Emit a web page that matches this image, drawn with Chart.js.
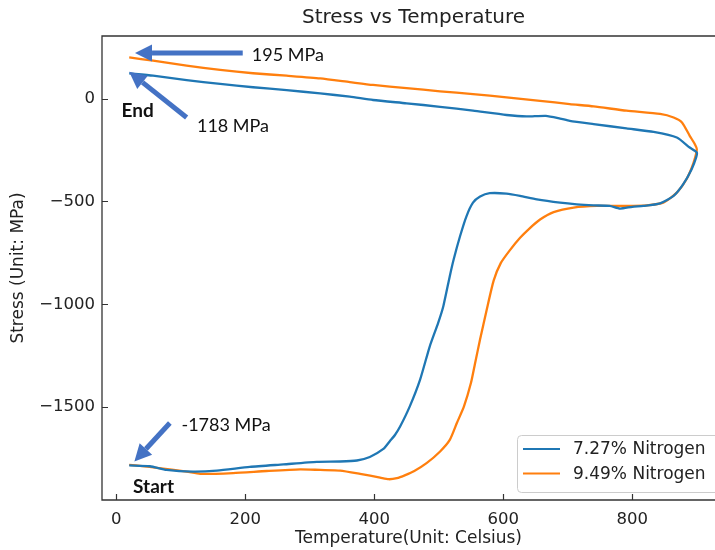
<!DOCTYPE html>
<html>
<head>
<meta charset="utf-8">
<title>Stress vs Temperature</title>
<script src="https://cdn.jsdelivr.net/npm/chart.js@4.4.1/dist/chart.umd.min.js"></script>
<style>
  body { margin: 0; background: #fff; }
  canvas { display: block; }
</style>
</head>
<body>
<canvas id="stressChart" width="715" height="550"></canvas>
<script>
// Chart title and series names
const chartTitle = 'Stress vs Temperature';
const seriesNames = ['7.27% Nitrogen', '9.49% Nitrogen'];

// 7.27% Nitrogen: temperature (Celsius) and stress (MPa), in heating/cooling order
const temp727 = [20, 52, 78, 119, 156, 207, 259, 311, 347, 373, 393, 414, 424, 432, 440, 455, 471, 486, 499, 507,
  517, 523, 533, 543, 553, 564, 579, 605, 626, 652, 688, 714, 740, 765, 781, 800, 817, 843, 864,
  879, 892, 899, 900, 889, 869, 833, 791, 740, 703, 688, 666, 636, 605, 553, 502, 450, 398, 362, 316,
  264, 212, 161, 109, 57, 20];
const stress727 = [-1783, -1787, -1805, -1813, -1808, -1790, -1778, -1766, -1764, -1759, -1742, -1703, -1665, -1635, -1594, -1496, -1366, -1204, -1090, -1009,
  -863, -782, -668, -571, -506, -476, -460, -462, -473, -490, -506, -514, -519, -522, -535, -526, -522, -509, -473,
  -416, -343, -286, -262, -238, -189, -162, -145, -124, -108, -97, -84, -87, -80, -59, -40, -23, -7, 9, 25,
  41, 55, 71, 90, 111, 122];

// 9.49% Nitrogen
const temp949 = [20, 40, 63, 109, 130, 181, 233, 285, 316, 347, 378, 409, 422, 435, 448, 462, 481, 502, 517, 528,
  539, 550, 556, 564, 574, 585, 596, 610, 626, 640, 657, 678, 709, 745, 791, 822, 848, 869, 884, 895, 900, 897, 889,
  877, 864, 843, 791, 740, 703, 657, 605, 553, 502, 450, 398, 362, 316, 264, 212, 161, 109, 57, 20];
const stress949 = [-1780, -1786, -1795, -1813, -1824, -1820, -1810, -1802, -1805, -1808, -1824, -1842, -1850, -1845, -1830, -1810, -1772, -1715, -1659, -1577,
  -1496, -1380, -1290, -1170, -1030, -885, -800, -738, -677, -633, -588, -552, -530, -522, -522, -519, -506, -457, -392, -311, -246, -222, -181,
  -116, -92, -75, -59, -38, -27, -11, 6, 22, 35, 51, 66, 80, 98, 111, 123, 139, 160, 184, 200];

// Tick labels
const xTickValues = [0, 200, 400, 600, 800];
const xTickLabels = ['0', '200', '400', '600', '800'];
const yTickValues = [-1500, -1000, -500, 0];
const yTickLabels = ['\u22121500', '\u22121000', '\u2212500', '0'];

// Callout notes
const noteTexts = ['195 MPa', '118 MPa', '-1783 MPa'];
const noteBold = ['End', 'Start'];

const seriesColors = ['#1f77b4', '#ff7f0e'];
const arrowColor = '#4472c4';
const textColor = '#222222';
const fontMain = "'DejaVu Sans', sans-serif";
const fontNote = "Lato, 'Open Sans', sans-serif";

Chart.defaults.font.family = fontMain;
Chart.defaults.color = textColor;

// Build point objects for the scatter datasets
function toPoints(xs, ys) {
    return xs.map((x, i) => ({ x: x, y: ys[i] }));
}

// Arrow / text annotations, positioned with the chart's scales
const arrows = [
    { tip: [29, 221], tail: [196, 221] },
    { tip: [20, 130], tail: [109, -92] },
    { tip: [28, -1764], tail: [83, -1577] }
];
const labels = [
    { text: noteTexts[0], at: [210, 209], bold: false },
    { text: noteTexts[1], at: [125, -132], bold: false },
    { text: noteTexts[2], at: [101, -1585], bold: false },
    { text: noteBold[0], at: [8, -59], bold: true },
    { text: noteBold[1], at: [26, -1885], bold: true }
];

function drawArrow(ctx, x1, y1, x2, y2) {
    // x1,y1 = tail, x2,y2 = tip
    const ang = Math.atan2(y2 - y1, x2 - x1);
    const headLen = 17, headW = 8.5;
    const bx = x2 - headLen * Math.cos(ang);
    const by = y2 - headLen * Math.sin(ang);
    ctx.strokeStyle = arrowColor;
    ctx.fillStyle = arrowColor;
    ctx.lineWidth = 5;
    ctx.beginPath();
    ctx.moveTo(x1, y1);
    ctx.lineTo(bx, by);
    ctx.stroke();
    ctx.beginPath();
    ctx.moveTo(x2, y2);
    ctx.lineTo(bx + headW * Math.sin(ang), by - headW * Math.cos(ang));
    ctx.lineTo(bx - headW * Math.sin(ang), by + headW * Math.cos(ang));
    ctx.closePath();
    ctx.fill();
}

// Title, frame, inward ticks, callouts and legend
const extrasPlugin = {
    id: 'extras',
    afterDraw(chart) {
        const ctx = chart.ctx;
        const area = chart.chartArea;
        const xs = chart.scales.x;
        const ys = chart.scales.y;
        ctx.save();

        // title, centred over the (slightly cropped) axes box
        ctx.fillStyle = textColor;
        ctx.font = '20px ' + fontMain;
        ctx.textAlign = 'center';
        ctx.textBaseline = 'middle';
        ctx.fillText(chartTitle, (area.left + area.right) / 2 + 5, 18);

        // frame (left, top, bottom spines)
        ctx.strokeStyle = '#333';
        ctx.lineWidth = 1.3;
        ctx.beginPath();
        ctx.moveTo(area.right + 2, area.top);
        ctx.lineTo(area.left, area.top);
        ctx.lineTo(area.left, area.bottom);
        ctx.lineTo(area.right + 2, area.bottom);
        ctx.stroke();

        // inward tick marks
        ctx.lineWidth = 1.2;
        ctx.beginPath();
        xTickValues.forEach(v => {
            const px = Math.round(xs.getPixelForValue(v)) + 0.5;
            ctx.moveTo(px, area.bottom);
            ctx.lineTo(px, area.bottom - 6);
        });
        yTickValues.forEach(v => {
            const py = Math.round(ys.getPixelForValue(v)) + 0.5;
            ctx.moveTo(area.left, py);
            ctx.lineTo(area.left + 6, py);
        });
        ctx.stroke();

        // arrows
        arrows.forEach(a => {
            drawArrow(ctx,
                xs.getPixelForValue(a.tail[0]), ys.getPixelForValue(a.tail[1]),
                xs.getPixelForValue(a.tip[0]), ys.getPixelForValue(a.tip[1]));
        });

        // callout text
        ctx.fillStyle = '#111';
        ctx.textBaseline = 'middle';
        ctx.textAlign = 'left';
        labels.forEach(l => {
            ctx.font = (l.bold ? 'bold 19px ' : '18px ') + fontNote;
            ctx.fillText(l.text, xs.getPixelForValue(l.at[0]), ys.getPixelForValue(l.at[1]));
        });

        // legend box in lower right
        const lx = 517, ly = 435, lw = 206, lh = 57;
        ctx.fillStyle = 'rgba(255,255,255,0.85)';
        ctx.strokeStyle = '#cccccc';
        ctx.lineWidth = 1;
        ctx.beginPath();
        ctx.roundRect(lx + 0.5, ly + 0.5, lw, lh, 4);
        ctx.fill();
        ctx.stroke();
        ctx.font = '17px ' + fontMain;
        chart.data.datasets.forEach((ds, i) => {
            const y = ly + 14 + i * 24.5;
            ctx.strokeStyle = ds.borderColor;
            ctx.lineWidth = 2.2;
            ctx.beginPath();
            ctx.moveTo(lx + 6, y);
            ctx.lineTo(lx + 43, y);
            ctx.stroke();
            ctx.fillStyle = textColor;
            ctx.fillText(ds.label, lx + 56, y + 1);
        });

        ctx.restore();
    }
};

const chart = new Chart(document.getElementById('stressChart'), {
    type: 'scatter',
    data: {
        datasets: [
            {
                label: seriesNames[0],
                data: toPoints(temp727, stress727),
                showLine: true,
                borderColor: seriesColors[0],
                backgroundColor: seriesColors[0],
                borderWidth: 2.3,
                pointRadius: 0,
                tension: 0.2
            },
            {
                label: seriesNames[1],
                data: toPoints(temp949, stress949),
                showLine: true,
                borderColor: seriesColors[1],
                backgroundColor: seriesColors[1],
                borderWidth: 2.3,
                pointRadius: 0,
                tension: 0.2
            }
        ]
    },
    options: {
        responsive: false,
        animation: false,
        layout: { padding: { top: 36 } },
        plugins: {
            legend: { display: false },
            tooltip: { enabled: false },
            title: { display: false }
        },
        scales: {
            x: {
                type: 'linear',
                min: -22.2,
                max: 928.2,
                grid: { display: false, drawTicks: false },
                border: { display: false },
                afterBuildTicks: (scale) => { scale.ticks = xTickValues.map(v => ({ value: v })); },
                afterFit: (scale) => { scale.height = 50; },
                ticks: {
                    padding: 10,
                    font: { size: 16.5 },
                    color: textColor,
                    callback: (value) => xTickLabels[xTickValues.indexOf(value)]
                },
                title: {
                    display: true,
                    text: 'Temperature(Unit: Celsius)',
                    color: textColor,
                    font: { size: 17 },
                    padding: { top: 0, bottom: 1 }
                }
            },
            y: {
                type: 'linear',
                min: -1951,
                max: 304,
                grid: { display: false, drawTicks: false },
                border: { display: false },
                afterBuildTicks: (scale) => { scale.ticks = yTickValues.map(v => ({ value: v })); },
                afterFit: (scale) => { scale.width = 102; },
                ticks: {
                    padding: 7,
                    font: { size: 16.5 },
                    color: textColor,
                    callback: (value) => yTickLabels[yTickValues.indexOf(value)]
                },
                title: {
                    display: true,
                    text: 'Stress (Unit: MPa)',
                    color: textColor,
                    font: { size: 17 },
                    padding: { top: 8, bottom: 0 }
                }
            }
        }
    },
    plugins: [extrasPlugin]
});
</script>
</body>
</html>
